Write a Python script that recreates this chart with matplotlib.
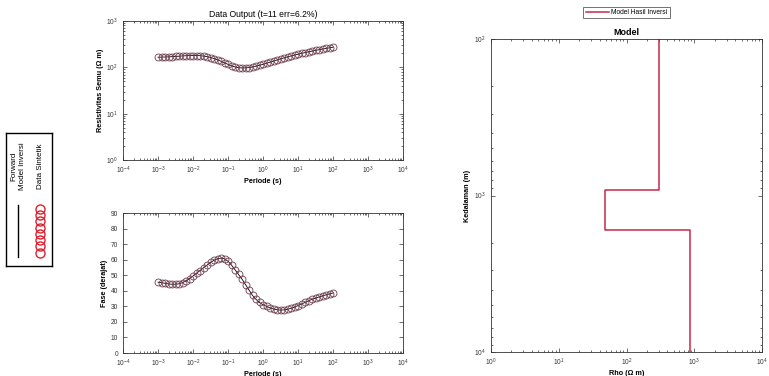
import numpy as np
import matplotlib
matplotlib.use("Agg")
import matplotlib.pyplot as plt

plt.rcParams['font.family'] = ['Liberation Sans', 'DejaVu Sans']

# ---- data ----
period = np.logspace(-3, 2, 51)  # s, 10 per decade
rho_app = [165, 166, 167, 168, 170, 172, 174, 176, 178, 179,
           180, 180, 178, 175, 170, 163, 155, 145, 135, 125,
           116, 108, 102, 98, 97, 97, 99, 102, 106, 111,
           116, 122, 129, 136, 144, 152, 160, 168, 176, 184,
           192, 200, 208, 216, 224, 232, 240, 248, 256, 264, 272]
phase = [45.5, 45.2, 44.8, 44.4, 44.2, 44.2, 44.5, 45.2, 46.3, 47.8,
         49.5, 51.3, 53.0, 54.8, 56.5, 58.2, 59.6, 60.6, 61.0, 60.5,
         59.0, 56.5, 53.5, 50.5, 47.5, 44.0, 40.5, 37.0, 34.5, 32.5,
         31.0, 30.0, 29.0, 28.3, 27.8, 27.6, 27.7, 28.1, 28.7, 29.5,
         30.5, 31.5, 32.5, 33.5, 34.5, 35.3, 36.0, 36.7, 37.4, 38.0, 38.6]

layer_rho = [300, 48, 870]               # ohm m
layer_bounds = [100, 920, 1660, 10000]   # m (top of plot, interfaces, bottom of plot)

title_left = "Data Output (t=11 err=6.2%)"

fig = plt.figure(figsize=(7.69, 3.76), dpi=100)

mk_col = '#6e3c4c'
tick_fs = 4.8
lab_fs = 5.2

def style(ax):
    ax.tick_params(which='both', direction='in', top=True, right=True,
                   labelsize=tick_fs, colors='#333333', width=0.5)
    ax.tick_params(which='major', length=3)
    ax.tick_params(which='minor', length=1.5)
    for s in ax.spines.values():
        s.set_linewidth(0.6)
        s.set_color('#333333')

# top-left: apparent resistivity
ax1 = fig.add_axes([123/769, 1-160/376, 280/769, 139/376])
ax1.loglog(period, rho_app, color='black', lw=0.6, zorder=2)
ax1.loglog(period, rho_app, 'o', mfc='none', mec=mk_col, ms=5, mew=0.6, zorder=3)
ax1.set_xlim(1e-4, 1e4)
ax1.set_ylim(1, 1000)
ax1.set_xticks([10.0**k for k in range(-4, 5)])
ax1.set_yticks([1, 10, 100, 1000])
ax1.set_title(title_left, fontsize=6.2, pad=3)
ax1.set_xlabel("Periode (s)", fontsize=lab_fs, fontweight='bold', labelpad=1)
ax1.set_ylabel("Resistivitas Semu (Ω m)", fontsize=lab_fs, fontweight='bold', labelpad=2)
style(ax1)

# bottom-left: phase
ax2 = fig.add_axes([123/769, 1-353/376, 280/769, 140/376])
ax2.semilogx(period, phase, color='black', lw=0.6, zorder=2)
ax2.semilogx(period, phase, 'o', mfc='none', mec=mk_col, ms=5, mew=0.6, zorder=3)
ax2.set_xlim(1e-4, 1e4)
ax2.set_ylim(0, 90)
ax2.set_xticks([10.0**k for k in range(-4, 5)])
ax2.set_yticks(range(0, 91, 10))
ax2.set_xlabel("Periode (s)", fontsize=lab_fs, fontweight='bold', labelpad=1)
ax2.set_ylabel("Fase (derajat)", fontsize=lab_fs, fontweight='bold', labelpad=2)
style(ax2)

# right: model
ax3 = fig.add_axes([491/769, 1-352/376, 271/769, 313/376])
xs = np.repeat(layer_rho, 2)
ys = [layer_bounds[0]] + list(np.repeat(layer_bounds[1:-1], 2)) + [layer_bounds[-1]]
ax3.loglog(xs, ys, color='#c8284a', lw=1.1, label='Model Hasil Inversi')
ax3.set_xlim(1, 1e4)
ax3.set_ylim(1e4, 1e2)
ax3.set_xticks([1, 10, 100, 1000, 10000])
ax3.set_yticks([100, 1000, 10000])
ax3.set_title("Model", fontsize=6.5, fontweight='bold', pad=3)
ax3.set_xlabel("Rho (Ω m)", fontsize=lab_fs, fontweight='bold', labelpad=1)
ax3.set_ylabel("Kedalaman (m)", fontsize=lab_fs, fontweight='bold', labelpad=2)
style(ax3)
leg3 = ax3.legend(loc='lower center', bbox_to_anchor=(0.5, 1.055), fontsize=4.8,
                  frameon=True, fancybox=False, edgecolor='#333333',
                  handlelength=3.5, borderpad=0.35, handletextpad=0.3)
leg3.get_frame().set_linewidth(0.6)

# left rotated legend
axl = fig.add_axes([6/769, 1-266/376, 46/769, 133/376])
axl.set_xlim(0, 1)
axl.set_ylim(0, 1)
axl.set_xticks([])
axl.set_yticks([])
for s in axl.spines.values():
    s.set_linewidth(1.0)
    s.set_color('black')
axl.plot([0.27, 0.27], [0.07, 0.46], color='black', lw=1.0)
axl.plot([0.74] * 8, np.linspace(0.1, 0.43, 8), 'o', mfc='none', mec='#e0202e',
         ms=6.5, mew=1.0)
axl.text(0.26, 0.57, "Forward\nModel Inversi", rotation=90, fontsize=5.8,
         ha='center', va='bottom', linespacing=1.35)
axl.text(0.76, 0.58, "Data Sintetik", rotation=90, fontsize=5.8,
         ha='center', va='bottom')

fig.savefig("out.png", dpi=100)
